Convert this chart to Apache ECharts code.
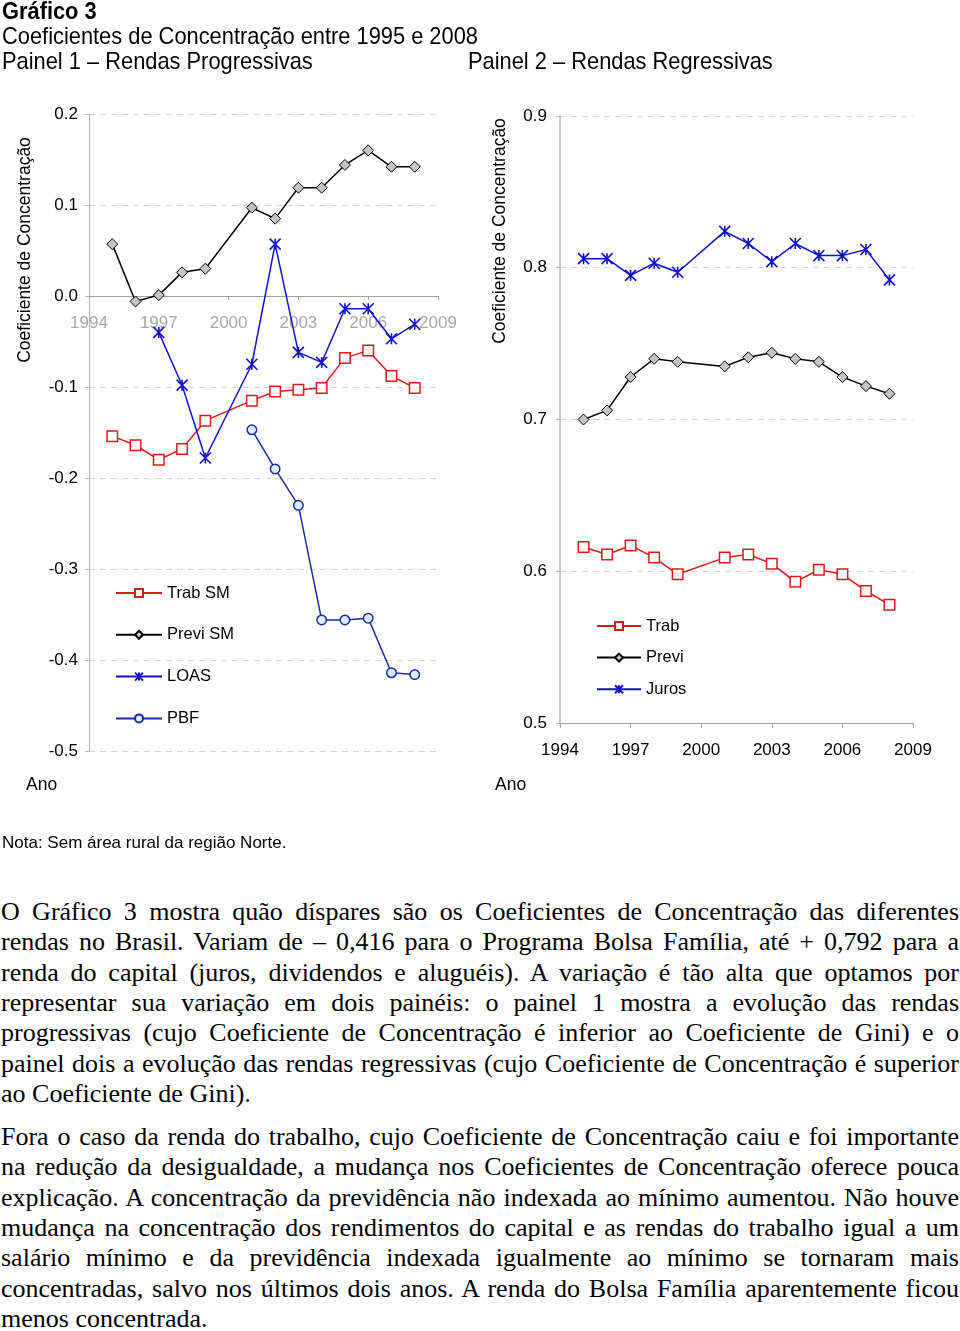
<!DOCTYPE html>
<html>
<head>
<meta charset="utf-8">
<script src="https://cdn.jsdelivr.net/npm/echarts@6/dist/echarts.min.js"></script>
<style>
  html, body { margin:0; padding:0; background:#fff; }
  body { width:960px; height:1331px; position:relative; overflow:hidden; }
  #chart { position:absolute; left:0; top:0; width:960px; height:880px; }
  .ln { position:absolute; left:1px; width:958px; height:30px; line-height:30px;
        font-family:"Liberation Serif","Times New Roman",serif; font-size:26px; color:#000; text-align:left; }
  .j { text-align:justify; text-align-last:justify; }
</style>
</head>
<body>
<div id="chart"></div>
<div id="text"></div>
<script>
// ---------- data ----------
const years = [1995, 1996, 1997, 1998, 1999, 2001, 2002, 2003, 2004, 2005, 2006, 2007, 2008];
const yearTicks = [1994, 1997, 2000, 2003, 2006, 2009];
const panel1Ticks = [-0.5, -0.4, -0.3, -0.2, -0.1, 0.0, 0.1, 0.2];
const panel2Ticks = [0.5, 0.6, 0.7, 0.8, 0.9];

// Painel 1 – Rendas Progressivas
const trabSM  = [-0.154, -0.164, -0.180, -0.168, -0.137, -0.115, -0.105, -0.103, -0.101, -0.068, -0.060, -0.088, -0.101];
const previSM = [0.057, -0.006, 0.001, 0.026, 0.030, 0.097, 0.085, 0.119, 0.119, 0.144, 0.160, 0.142, 0.142];
const loas    = [null, null, -0.040, -0.098, -0.178, -0.075, 0.057, -0.062, -0.073, -0.014, -0.014, -0.047, -0.031];
const pbf     = [null, null, null, null, null, -0.147, -0.190, -0.230, -0.356, -0.356, -0.354, -0.414, -0.416];

// Painel 2 – Rendas Regressivas
const trab  = [0.616, 0.611, 0.617, 0.609, 0.598, 0.609, 0.611, 0.605, 0.593, 0.601, 0.598, 0.587, 0.578];
const previ = [0.700, 0.706, 0.728, 0.740, 0.738, 0.735, 0.741, 0.744, 0.740, 0.738, 0.728, 0.722, 0.717];
const juros = [0.806, 0.806, 0.795, 0.803, 0.797, 0.824, 0.816, 0.804, 0.816, 0.808, 0.808, 0.812, 0.792];

const legend1 = ['Trab SM', 'Previ SM', 'LOAS', 'PBF'];
const legend2 = ['Trab', 'Previ', 'Juros'];

const para1 = [
  'O Gráfico 3 mostra quão díspares são os Coeficientes de Concentração das diferentes',
  'rendas no Brasil. Variam de – 0,416 para o Programa Bolsa Família, até + 0,792 para a',
  'renda do capital (juros, dividendos e aluguéis). A variação é tão alta que optamos por',
  'representar sua variação em dois painéis: o painel 1 mostra a evolução das rendas',
  'progressivas (cujo Coeficiente de Concentração é inferior ao Coeficiente de Gini) e o',
  'painel dois a evolução das rendas regressivas (cujo Coeficiente de Concentração é superior',
  'ao Coeficiente de Gini).'
];
const para2 = [
  'Fora o caso da renda do trabalho, cujo Coeficiente de Concentração caiu e foi importante',
  'na redução da desigualdade, a mudança nos Coeficientes de Concentração oferece pouca',
  'explicação. A concentração da previdência não indexada ao mínimo aumentou. Não houve',
  'mudança na concentração dos rendimentos do capital e as rendas do trabalho igual a um',
  'salário mínimo e da previdência indexada igualmente ao mínimo se tornaram mais',
  'concentradas, salvo nos últimos dois anos. A renda do Bolsa Família aparentemente ficou',
  'menos concentrada.'
];

// ---------- paragraphs ----------
(function () {
  const box = document.getElementById('text');
  const W = 958;
  function put(lines, firstCenter, step) {
    lines.forEach(function (t, i) {
      const d = document.createElement('div');
      d.className = 'ln';
      d.style.top = (firstCenter + i * step - 15) + 'px';
      const s = document.createElement('span');
      s.style.whiteSpace = 'nowrap';
      s.textContent = t;
      d.appendChild(s);
      box.appendChild(d);
      const w = s.getBoundingClientRect().width;
      const last = (i === lines.length - 1);
      if (w > W) {
        s.style.display = 'inline-block';
        s.style.transformOrigin = '0 0';
        s.style.transform = 'scaleX(' + (W / w) + ')';
      } else if (!last) {
        d.classList.add('j');
        s.style.whiteSpace = 'normal';
      }
    });
  }
  put(para1, 912, 30.35);
  put(para2, 1137, 30.35);
})();

// ---------- chart ----------
const x0 = yearTicks[0];
function pairs(vals) {
  const out = [];
  vals.forEach(function (v, i) { if (v !== null) out.push([years[i] - x0, v]); });
  return out;
}
const RED = '#dd1a1a', BLUE = '#1010cc', DBLUE = '#1c2aa6', BLACK = '#000';
const STAR = 'path://M0,0L10,10M0,10L10,0M5,0L5,10';
const FONT = '"Liberation Sans", Arial, sans-serif';

function sq(name, data, xi) {
  return { name: name, type: 'line', xAxisIndex: xi, yAxisIndex: xi, data: data, symbol: 'rect', symbolSize: 10.5,
    lineStyle: { color: RED, width: 1.5 }, itemStyle: { color: '#fff', borderColor: RED, borderWidth: 1.5 }, z: 3 };
}
function dia(name, data, xi) {
  return { name: name, type: 'line', xAxisIndex: xi, yAxisIndex: xi, data: data, symbol: 'diamond', symbolSize: 11,
    lineStyle: { color: BLACK, width: 1.5 }, itemStyle: { color: '#c4c4c4', borderColor: BLACK, borderWidth: 1 }, z: 4 };
}
function star(name, data, xi) {
  return { name: name, type: 'line', xAxisIndex: xi, yAxisIndex: xi, data: data, symbol: STAR, symbolSize: 11,
    lineStyle: { color: BLUE, width: 1.5 }, itemStyle: { color: BLUE, borderColor: BLUE, borderWidth: 1.6 }, z: 5 };
}
function circ(name, data, xi) {
  return { name: name, type: 'line', xAxisIndex: xi, yAxisIndex: xi, data: data, symbol: 'circle', symbolSize: 9.5,
    lineStyle: { color: DBLUE, width: 1.5 }, itemStyle: { color: '#dcefff', borderColor: DBLUE, borderWidth: 1.5 }, z: 5 };
}

const yearFmt = function (v) { return String(v + x0); };
const decFmt = function (v) { return v.toFixed(1); };
const split = { show: true, lineStyle: { color: '#d4d4d4', type: [6, 5], width: 1 } };
const xMax = yearTicks[yearTicks.length - 1] - x0;
const xInt = yearTicks[1] - yearTicks[0];

const option = {
  animation: false,
  textStyle: { fontFamily: FONT },
  grid: [
    { left: 89, top: 114, width: 349, height: 637 },
    { left: 560, top: 116, width: 353, height: 607 }
  ],
  xAxis: [
    { gridIndex: 0, type: 'value', min: 0, max: xMax, interval: xInt, offset: 0,
      axisLine: { show: true, onZero: false, lineStyle: { color: '#a0a0a0', width: 1 } },
      axisTick: { show: true, length: 4, lineStyle: { color: '#a0a0a0' } },
      axisLabel: { color: '#a8a8a8', fontSize: 17, margin: 19, formatter: yearFmt },
      splitLine: { show: false } },
    { gridIndex: 1, type: 'value', min: 0, max: xMax, interval: xInt,
      axisLine: { show: true, onZero: false, lineStyle: { color: '#a0a0a0', width: 1 } },
      axisTick: { show: true, length: 5, lineStyle: { color: '#a0a0a0' } },
      axisLabel: { color: '#000', fontSize: 17, margin: 19, formatter: yearFmt },
      splitLine: { show: false } }
  ],
  yAxis: [
    { gridIndex: 0, type: 'value', min: panel1Ticks[0], max: panel1Ticks[panel1Ticks.length - 1], interval: 0.1,
      axisLine: { show: true, onZero: false, lineStyle: { color: '#b4b4b4', width: 1 } },
      axisTick: { show: true, length: 4, lineStyle: { color: '#b4b4b4' } },
      axisLabel: { color: '#000', fontSize: 17, margin: 11, formatter: decFmt },
      splitLine: split },
    { gridIndex: 1, type: 'value', min: panel2Ticks[0], max: panel2Ticks[panel2Ticks.length - 1], interval: 0.1,
      axisLine: { show: true, onZero: false, lineStyle: { color: '#c8c8c8', width: 2 } },
      axisTick: { show: true, length: 4, lineStyle: { color: '#b4b4b4' } },
      axisLabel: { color: '#000', fontSize: 17, margin: 13, formatter: decFmt },
      splitLine: split }
  ],
  legend: [
    { data: legend1, orient: 'vertical', left: 115, top: 584.5, padding: 0, itemWidth: 46, itemHeight: 10, itemGap: 24.8,
      textStyle: { fontSize: 16.5, color: '#000' }, selectedMode: false },
    { data: legend2, orient: 'vertical', left: 596, top: 617.5, padding: 0, itemWidth: 44, itemHeight: 10, itemGap: 14.6,
      textStyle: { fontSize: 16.5, color: '#000' }, selectedMode: false }
  ],
  graphic: [
    { type: 'text', x: 2, y: 12, scaleX: 0.91, style: { text: 'Gráfico 3', fontSize: 24, fontWeight: 'bold', fontFamily: FONT, fill: '#000', align: 'left', verticalAlign: 'middle' } },
    { type: 'text', x: 2, y: 37, scaleX: 0.91, style: { text: 'Coeficientes de Concentração entre 1995 e 2008', fontSize: 24, fontFamily: FONT, fill: '#000', align: 'left', verticalAlign: 'middle' } },
    { type: 'text', x: 2, y: 62, scaleX: 0.91, style: { text: 'Painel 1 – Rendas Progressivas', fontSize: 24, fontFamily: FONT, fill: '#000', align: 'left', verticalAlign: 'middle' } },
    { type: 'text', x: 468, y: 62, scaleX: 0.91, style: { text: 'Painel 2 – Rendas Regressivas', fontSize: 24, fontFamily: FONT, fill: '#000', align: 'left', verticalAlign: 'middle' } },
    { type: 'text', x: 25, y: 250, rotation: Math.PI / 2, style: { text: 'Coeficiente de Concentração', fontSize: 17.5, fontFamily: FONT, fill: '#000', align: 'center', verticalAlign: 'middle' } },
    { type: 'text', x: 500, y: 231, rotation: Math.PI / 2, style: { text: 'Coeficiente de Concentração', fontSize: 17.5, fontFamily: FONT, fill: '#000', align: 'center', verticalAlign: 'middle' } },
    { type: 'text', x: 26, y: 785, style: { text: 'Ano', fontSize: 17.5, fontFamily: FONT, fill: '#000', align: 'left', verticalAlign: 'middle' } },
    { type: 'text', x: 495, y: 785, style: { text: 'Ano', fontSize: 17.5, fontFamily: FONT, fill: '#000', align: 'left', verticalAlign: 'middle' } },
    { type: 'text', x: 2, y: 843, style: { text: 'Nota: Sem área rural da região Norte.', fontSize: 17, fontFamily: FONT, fill: '#000', align: 'left', verticalAlign: 'middle' } }
  ],
  series: [
    sq(legend1[0], pairs(trabSM), 0),
    dia(legend1[1], pairs(previSM), 0),
    star(legend1[2], pairs(loas), 0),
    circ(legend1[3], pairs(pbf), 0),
    sq(legend2[0], pairs(trab), 1),
    dia(legend2[1], pairs(previ), 1),
    star(legend2[2], pairs(juros), 1)
  ]
};

const chart = echarts.init(document.getElementById('chart'), null, { renderer: 'canvas' });
chart.setOption(option);
// Move panel 1's x axis (line, ticks and labels) up to the zero line of its y scale.
const bottomPx = chart.convertToPixel({ yAxisIndex: 0 }, panel1Ticks[0]);
const zeroPx = chart.convertToPixel({ yAxisIndex: 0 }, 0);
chart.setOption({ xAxis: [{ offset: -(bottomPx - zeroPx) }, {}] });
</script>
</body>
</html>
